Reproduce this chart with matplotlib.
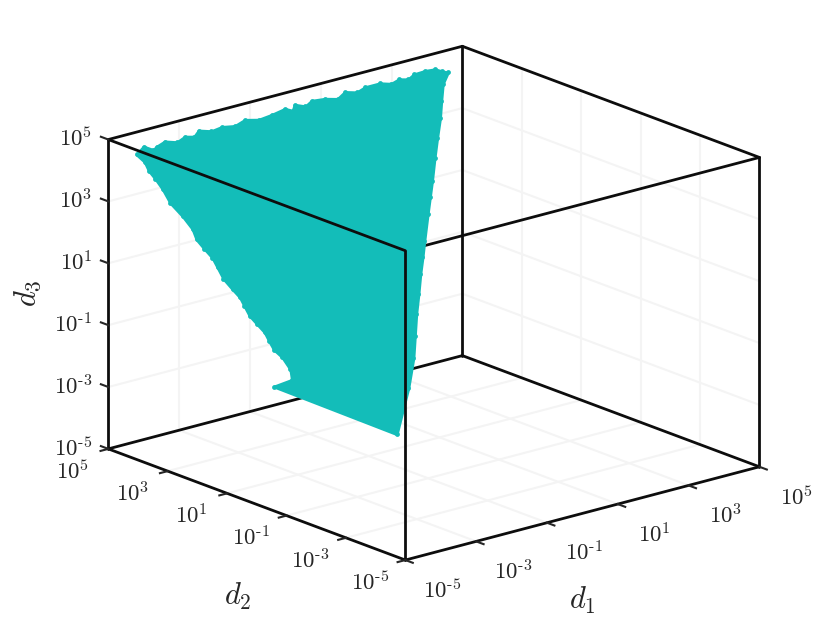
import matplotlib
matplotlib.use("Agg")
import matplotlib.pyplot as plt
from mpl_toolkits.mplot3d import proj3d
from mpl_toolkits.mplot3d.art3d import Poly3DCollection

# decades on every axis
tick_exp = [-5, -3, -1, 1, 3, 5]
tick_labels = [r"$10^{\text{-}5}$", r"$10^{\text{-}3}$", r"$10^{\text{-}1}$", r"$10^{1}$", r"$10^{3}$", r"$10^{5}$"]

# outline of the point cloud, log10 of d1, d2, d3
d1_exp = [-4.37, -4.07, -3.90, -3.76, -3.48, -3.20, -2.92, -2.70, -2.49, -2.20, -1.88, -1.55, -1.21, -0.88, -0.48, -0.07, 0.08,
          0.23, 0.46, 0.70, 1.05, 1.35, 1.64, 1.92, 2.20, 2.62, 2.88, 3.14, 3.36, 3.58, 3.90, 4.17, 4.30, 4.42,
          4.11, 3.79, 3.47, 3.07, 2.67, 2.22, 1.89, 1.56, 1.03, 0.71, 0.38, 0.00, -0.39, -0.79, -1.20, -1.82, -2.88,
          -5.00, -4.46, -4.32, -4.31, -4.38, -4.35, -4.31, -4.35, -4.39, -4.35, -4.31, -4.35, -4.39, -4.34, -4.30, -4.34,
          -4.37, -4.29, -4.31, -4.38, -4.33, -4.33, -4.35, -4.30]
d2_exp = [4.80, 4.92, 4.80, 4.85, 4.91, 4.83, 4.90, 4.85, 4.95, 4.87, 4.90, 4.85, 4.92, 4.85, 4.88, 4.93, 4.85,
          4.96, 4.87, 4.95, 4.92, 4.85, 4.95, 4.88, 4.94, 4.94, 4.87, 4.92, 4.87, 4.94, 4.95, 4.93, 4.85, 4.80,
          4.60, 4.27, 3.93, 3.55, 3.16, 2.71, 2.39, 2.07, 1.55, 1.23, 0.91, 0.52, 0.13, -0.30, -0.74, -1.31, -2.18,
          -0.58, -0.54, -0.32, -0.03, 0.16, 0.36, 0.56, 0.76, 0.97, 1.19, 1.39, 1.59, 1.85, 2.11, 2.33, 2.55,
          2.78, 3.01, 3.32, 3.65, 3.97, 4.21, 4.41, 4.61]
d3_exp = [4.40, 4.52, 4.40, 4.45, 4.51, 4.43, 4.50, 4.45, 4.55, 4.47, 4.50, 4.45, 4.52, 4.45, 4.48, 4.53, 4.45,
          4.56, 4.47, 4.55, 4.52, 4.45, 4.55, 4.48, 4.54, 4.54, 4.47, 4.52, 4.47, 4.54, 4.55, 4.53, 4.45, 4.40,
          4.20, 3.87, 3.53, 3.15, 2.76, 2.31, 1.99, 1.67, 1.15, 0.83, 0.51, 0.12, -0.27, -0.70, -1.14, -1.71, -2.58,
          -0.98, -0.94, -0.72, -0.43, -0.24, -0.04, 0.16, 0.36, 0.57, 0.79, 0.99, 1.19, 1.45, 1.71, 1.93, 2.15,
          2.38, 2.61, 2.92, 3.25, 3.57, 3.81, 4.01, 4.21]

teal = "#13BDB9"
edge = "#0d0d0d"
dark = "#262626"
grid = "#f4f4f4"

plt.rcParams["font.family"] = ["Liberation Serif", "DejaVu Serif"]
plt.rcParams["mathtext.fontset"] = "cm"

fig = plt.figure(figsize=(8.4, 6.3), dpi=100)
ax = fig.add_axes([2.5 / 840, -104.5 / 630, 1.0, 840 / 630], projection="3d", computed_zorder=False)
ax.set_proj_type("ortho")
ax.view_init(elev=18.3, azim=-130)
ax.set_box_aspect((1, 1, 0.705), zoom=0.844)
ax.set_xlim(-5, 5, view_margin=0)
ax.set_ylim(-5, 5, view_margin=0)
ax.set_zlim(-5, 5, view_margin=0)

for axis in [ax.xaxis, ax.yaxis, ax.zaxis]:
    axis.set_pane_color((1, 1, 1, 1))
    axis.pane.set_edgecolor("none")
    axis.line.set_color("none")
    axis.set_ticks([])
    axis.offsetText.set_visible(False)
    axis.label.set_visible(False)
ax.grid(False)

lo, hi = -5, 5


def label3d(x, y, z, s, size, ha="center"):
    # text at a 3D spot, projected with the axes' own matrix
    px, py, _ = proj3d.proj_transform(x, y, z, ax.get_proj())
    ax.text2D(px, py, s, transform=ax.transData, fontsize=size, ha=ha, va="center", color=dark)


# grid on floor and the two back walls
for t in tick_exp[1:-1]:
    ax.plot([t, t], [lo, hi], [lo, lo], color=grid, lw=1.5, zorder=0)
    ax.plot([lo, hi], [t, t], [lo, lo], color=grid, lw=1.5, zorder=0)
    ax.plot([t, t], [hi, hi], [lo, hi], color=grid, lw=1.5, zorder=0)
    ax.plot([lo, hi], [hi, hi], [t, t], color=grid, lw=1.5, zorder=0)
    ax.plot([hi, hi], [t, t], [lo, hi], color=grid, lw=1.5, zorder=0)
    ax.plot([hi, hi], [lo, hi], [t, t], color=grid, lw=1.5, zorder=0)

# box edges, back ones go under the points
back = [([lo, hi], [hi, hi], [lo, lo]), ([hi, hi], [lo, hi], [lo, lo]), ([lo, hi], [hi, hi], [hi, hi]),
        ([hi, hi], [lo, hi], [hi, hi]), ([lo, lo], [hi, hi], [lo, hi]), ([hi, hi], [hi, hi], [lo, hi]),
        ([lo, hi], [lo, lo], [hi, hi])]
front = [([lo, lo], [lo, hi], [hi, hi]), ([lo, lo], [lo, lo], [lo, hi]), ([lo, hi], [lo, lo], [lo, lo]),
         ([lo, lo], [lo, hi], [lo, lo]), ([hi, hi], [lo, lo], [lo, hi])]
for x, y, z in back:
    ax.plot(x, y, z, color=edge, lw=2.0, zorder=1, solid_capstyle="round")

poly = Poly3DCollection([list(zip(d1_exp, d2_exp, d3_exp))], facecolor=teal, edgecolor=teal, linewidth=2.2, zorder=2)
ax.add_collection3d(poly)
ax.scatter(d1_exp, d2_exp, d3_exp, s=12, color=teal, depthshade=False, linewidths=0, zorder=3)

for x, y, z in front:
    ax.plot(x, y, z, color=edge, lw=2.0, zorder=4, solid_capstyle="round")

# tick marks and labels
for t, lab in zip(tick_exp, tick_labels):
    ax.plot([t, t], [lo, lo - 0.25], [lo, lo], color=dark, lw=1.5, zorder=4)
    ax.plot([lo, lo - 0.22], [t, t], [lo, lo], color=dark, lw=1.5, zorder=4)
    ax.plot([lo, lo], [hi, hi + 0.25], [t, t], color=dark, lw=1.5, zorder=4)
    label3d(t, lo - 1.24, lo - 0.55, lab, 16.5)
    label3d(lo - 1.0, t, lo - 0.45, lab, 16.5)
    label3d(lo, hi + 0.54, t - 0.19, lab, 16.5, ha="right")

label3d(0, lo, lo - 2.8, r"$d_1$", 22)
label3d(lo - 0.54, 0, lo - 2.8, r"$d_2$", 22)
ax.text2D(28 / 840, 1 - 293 / 630, r"$d_3$", transform=fig.transFigure, fontsize=22, ha="center", va="center", rotation=90, color=dark)

fig.savefig("out.png", dpi=100)
